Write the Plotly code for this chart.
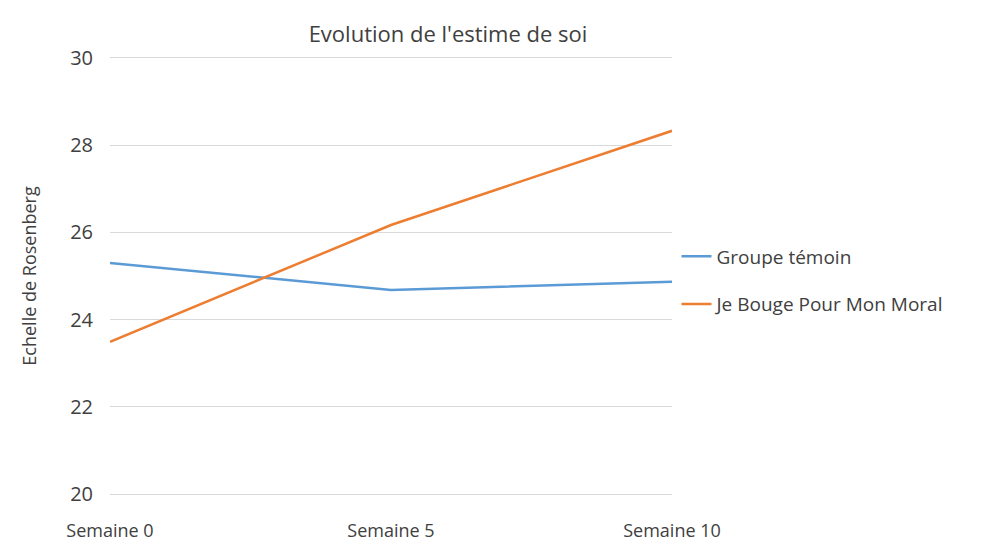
import plotly.graph_objects as go

semaines = ["Semaine 0", "Semaine 5", "Semaine 10"]
groupe_temoin = [25.30, 24.68, 24.87]
je_bouge = [23.49, 26.17, 28.33]

font_family = "Open Sans"
text_color = "#404040"

fig = go.Figure()
fig.add_trace(go.Scatter(
    x=semaines, y=groupe_temoin, mode="lines", name="Groupe témoin",
    line=dict(color="#5B9BD5", width=2.5), legendgroup="a"
))
fig.add_trace(go.Scatter(
    x=semaines, y=je_bouge, mode="lines", name="Je Bouge Pour Mon Moral",
    line=dict(color="#ED7D31", width=2.5), legendgroup="b"
))

# page body has an 8px margin, so the margins are shifted to compensate
fig.update_layout(
    width=1000, height=548,
    margin=dict(l=102, r=336, t=50, b=62),
    paper_bgcolor="white", plot_bgcolor="white",
    font=dict(family=font_family, color=text_color, size=18),
    title=dict(text="Evolution de l'estime de soi", x=0.44, xanchor="center",
               y=0.952, yanchor="middle", font=dict(size=22, color=text_color)),
    legend=dict(x=1.008, y=0.49, xanchor="left", yanchor="middle",
                font=dict(size=19, color=text_color), tracegroupgap=20,
                itemwidth=30),
    showlegend=True,
)
# top and bottom gridlines (30 and 20) drawn as mirrored axis lines
fig.update_xaxes(range=[0, 2], showgrid=False, zeroline=False,
                 showline=True, linecolor="#d9d9d9", linewidth=1, mirror=True,
                 ticks="", ticklabelstandoff=20, tickfont=dict(size=18))
fig.update_yaxes(range=[20, 30], dtick=2, showgrid=True, gridcolor="#d9d9d9",
                 gridwidth=1, zeroline=False, showline=False, ticks="",
                 ticklabelstandoff=16, tickfont=dict(size=20),
                 title=dict(text="Echelle de Rosenberg", font=dict(size=18), standoff=28))

fig.write_html("out.html")
